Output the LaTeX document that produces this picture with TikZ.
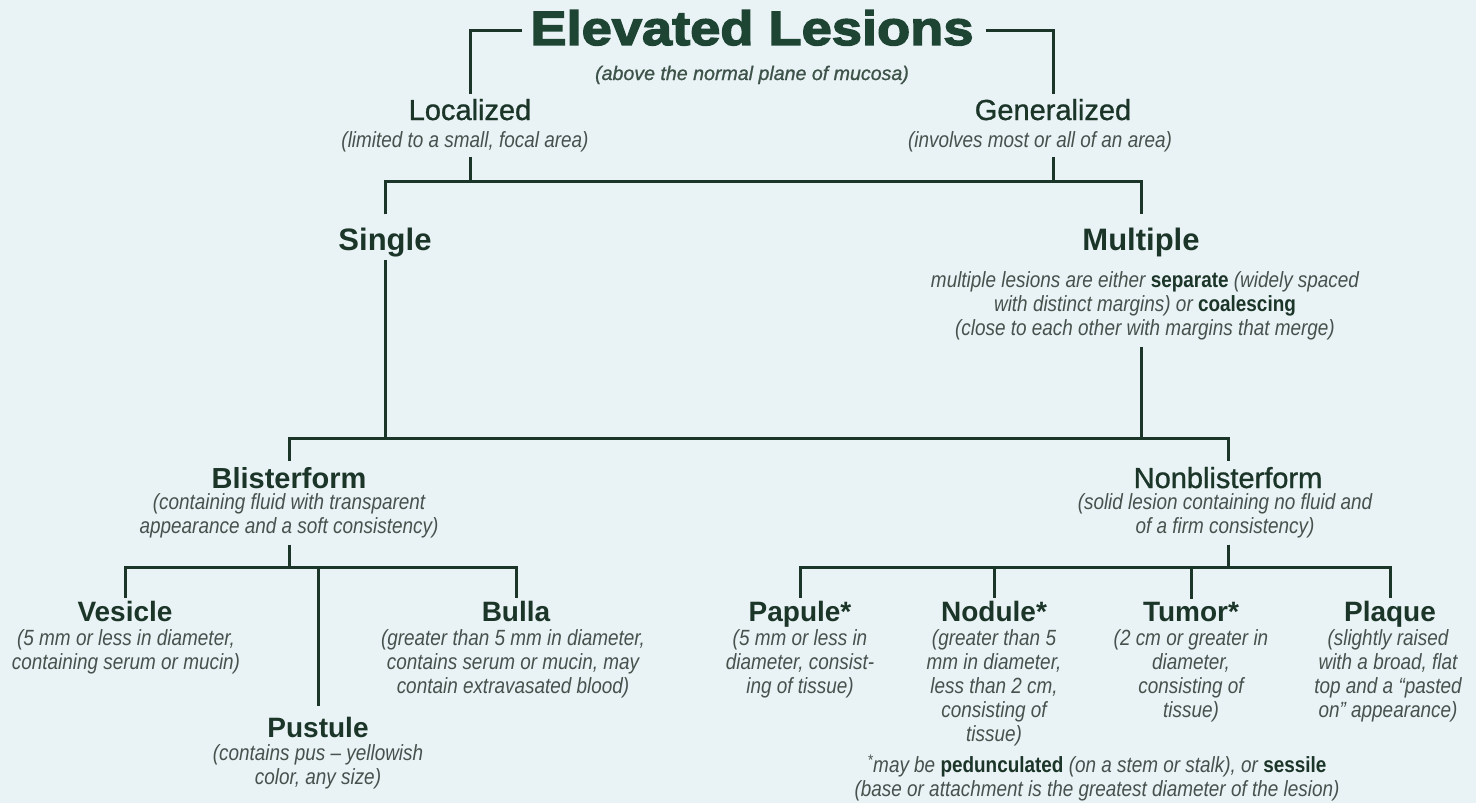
\documentclass[tikz,border=0pt]{standalone}
\usepackage{fontspec}
\setmainfont{Liberation Sans}
\newfontfamily\descfont[FakeStretch=0.86]{Liberation Sans}
\newfontfamily\medfont[FakeBold=1]{Liberation Sans}
\newfontfamily\heavyfont[BoldFeatures={FakeBold=3,FakeStretch=1.13}]{Liberation Sans}
\definecolor{bgc}{HTML}{E9F2F4}
\definecolor{ink}{HTML}{1B3529}
\definecolor{titleink}{HTML}{1E4534}
\definecolor{dgray}{HTML}{45524D}
\newcommand\boldword[1]{{\upshape\bfseries\color{ink}#1}}
\tikzset{
  ln/.style={draw=ink, line width=3pt, line join=miter},
  ttl/.style={font=\heavyfont\bfseries\fontsize{48}{56}\selectfont, text=titleink, inner sep=0pt, anchor=base},
  subt/.style={font=\medfont\itshape\fontsize{19.6}{24}\selectfont, text=ink!85!white, inner sep=0pt, anchor=base},
  hdm/.style={font=\medfont\fontsize{29}{32}\selectfont, text=ink, inner sep=0pt, anchor=base},
  hdb/.style={font=\bfseries\fontsize{29}{32}\selectfont, text=ink, inner sep=0pt, anchor=base},
  hdbig/.style={font=\bfseries\fontsize{31}{34}\selectfont, text=ink, inner sep=0pt, anchor=base},
  hds/.style={font=\bfseries\fontsize{28}{32}\selectfont, text=ink, inner sep=0pt, anchor=base},
  ds/.style={font=\descfont\itshape\fontsize{22}{24}\selectfont, text=dgray, align=center, inner sep=0pt, anchor=north, yshift=16.8pt},
}
\begin{document}
\begin{tikzpicture}[x=1pt,y=-1pt]
\fill[bgc] (0,0) rectangle (1476,803);
\useasboundingbox (0,0) rectangle (1476,803);

% junction levels
\coordinate (j1) at (0,181);
\coordinate (j2) at (0,438);
\coordinate (j3) at (0,567);

% nodes
\node[ttl] (title) at (752,45) {Elevated Lesions};
\node[subt] (sub) at (752,80) {(above the normal plane of mucosa)};

\node[hdm] (loc) at (470,120) {Localized};
\node[ds] (locd) at (465,147) {\strut(limited to a small, focal area)\strut};
\node[hdm] (gen) at (1053,120) {Generalized};
\node[ds] (gend) at (1040,147) {\strut(involves most or all of an area)\strut};

\node[hdbig] (sgl) at (385,250) {Single};
\node[hdbig] (mul) at (1141,250) {Multiple};
\node[ds] (muld) at (1145,287) {\strut multiple lesions are either \boldword{separate} (widely spaced\\with distinct margins) or \boldword{coalescing}\\(close to each other with margins that merge)\strut};

\node[hdb] (bli) at (289,488) {Blisterform};
\node[ds] (blid) at (289,509) {\strut(containing fluid with transparent\\appearance and a soft consistency)\strut};
\node[hdm] (nbl) at (1228,488) {Nonblisterform};
\node[ds] (nbld) at (1225,509) {\strut(solid lesion containing no fluid and\\of a firm consistency)\strut};

\node[hds] (ves) at (125,621) {Vesicle};
\node[ds] (vesd) at (126,645) {\strut(5 mm or less in diameter,\\containing serum or mucin)\strut};
\node[hds] (pus) at (318,737) {Pustule};
\node[ds] (pusd) at (318,760) {\strut(contains pus – yellowish\\color, any size)\strut};
\node[hds] (bul) at (516,621) {Bulla};
\node[ds] (buld) at (513,645) {\strut(greater than 5 mm in diameter,\\contains serum or mucin, may\\contain extravasated blood)\strut};

\node[hds] (pap) at (800,621) {Papule*};
\node[ds] (papd) at (800,645) {\strut(5 mm or less in\\diameter, consist-\\ing of tissue)\strut};
\node[hds] (nod) at (994,621) {Nodule*};
\node[ds] (nodd) at (994,645) {\strut(greater than 5\\mm in diameter,\\less than 2 cm,\\consisting of\\tissue)\strut};
\node[hds] (tum) at (1191,621) {Tumor*};
\node[ds] (tumd) at (1191,645) {\strut(2 cm or greater in\\diameter,\\consisting of\\tissue)\strut};
\node[hds] (pla) at (1390,621) {Plaque};
\node[ds] (plad) at (1388,645) {\strut(slightly raised\\with a broad, flat\\top and a “pasted\\on” appearance)\strut};

\node[ds] (note) at (1097,771) {\strut\textsuperscript{*}may be \boldword{pedunculated} (on a stem or stalk), or \boldword{sessile}\\(base or attachment is the greatest diameter of the lesion)\strut};

% connectors
\draw[ln, shorten >=5pt] ([xshift=-8pt,yshift=-3pt]title.west) -| (loc.north);
\draw[ln, shorten >=5pt] ([xshift=12pt,yshift=-3pt]title.east) -| (gen.north);

\draw[ln, shorten <=2pt] (loc |- locd.south) -- (loc |- j1);
\draw[ln, shorten <=2pt] (gen |- gend.south) -- (gen |- j1);
\draw[ln, shorten <=13pt, shorten >=13pt] (sgl.north) -- (sgl.north |- j1) -- (mul.north |- j1) -- (mul.north);

\draw[ln, shorten <=3pt] (sgl.south) -- (sgl |- j2);
\draw[ln, shorten <=4pt] (mul |- muld.south) -- (mul |- j2);
\draw[ln, shorten <=6pt, shorten >=6pt] (bli.north) -- (bli.north |- j2) -- (nbl.north |- j2) -- (nbl.north);

\draw[ln, shorten <=4pt] (blid.south) -- (blid.south |- j3);
\draw[ln, shorten <=3pt, shorten >=3pt] (ves.north) -- (ves.north |- j3) -- (bul.north |- j3) -- (bul.north);
\draw[ln, shorten >=11pt] (pus.north |- j3) -- (pus.north);

\draw[ln, shorten <=4pt] (nbl |- nbld.south) -- (nbl |- j3);
\draw[ln, shorten <=3pt, shorten >=3pt] (pap.north) -- (pap.north |- j3) -- (pla.north |- j3) -- (pla.north);
\draw[ln, shorten >=3pt] (nod.north |- j3) -- (nod.north);
\draw[ln, shorten >=3pt] (tum.north |- j3) -- (tum.north);
\end{tikzpicture}
\end{document}
